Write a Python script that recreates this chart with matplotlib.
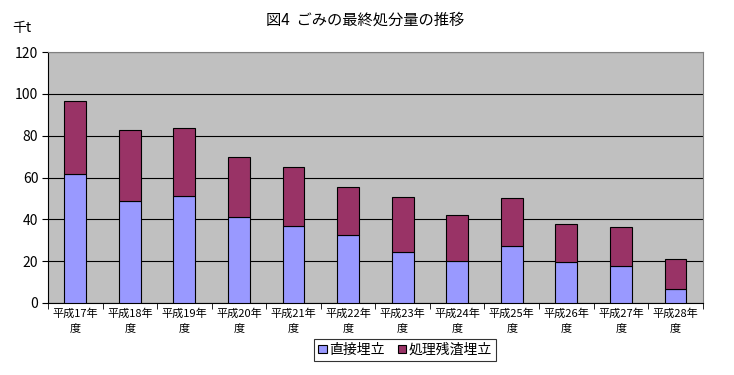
import numpy as np
import matplotlib.pyplot as plt

plt.rcParams['font.family'] = ['Noto Sans CJK JP', 'DejaVu Sans']

years = ['平成17年\n度', '平成18年\n度', '平成19年\n度', '平成20年\n度', '平成21年\n度', '平成22年\n度',
         '平成23年\n度', '平成24年\n度', '平成25年\n度', '平成26年\n度', '平成27年\n度', '平成28年\n度']
direct = [61.7, 48.8, 51.2, 41.1, 36.8, 32.5, 24.4, 19.9, 27.1, 19.5, 17.5, 6.5]
total = [96.6, 82.7, 83.7, 69.8, 65.0, 55.5, 50.7, 41.9, 50.0, 37.6, 36.2, 20.9]
residue = [t - d for t, d in zip(total, direct)]

fig = plt.figure(figsize=(7.34, 3.75), dpi=100)
ax = fig.add_axes([0.0654, 0.192, 0.892, 0.669])
ax.set_facecolor('#C0C0C0')

x = np.arange(len(years))
ax.bar(x, direct, width=0.4, color='#9999FF', edgecolor='black', linewidth=0.8, label='直接埋立', zorder=3)
ax.bar(x, residue, width=0.4, bottom=direct, color='#993366', edgecolor='black', linewidth=0.8,
       label='処理残渣埋立', zorder=3)

ax.set_xlim(-0.5, len(years) - 0.5)
ax.set_ylim(0, 120)
ax.set_yticks(range(0, 121, 20))
ax.yaxis.grid(True, color='black', linewidth=0.8, zorder=1)
ax.set_axisbelow(True)
ax.tick_params(axis='y', labelsize=10, length=4, direction='out', pad=3)
ax.set_xticks(x)
ax.set_xticklabels(years, fontsize=8, linespacing=1.5)
ax.tick_params(axis='x', length=0, pad=4)
ax.set_xticks(np.arange(-0.5, len(years), 1), minor=True)
ax.tick_params(axis='x', which='minor', length=4, direction='out')

for s in ['top', 'right']:
    ax.spines[s].set_color('#808080')
for s in ['left', 'bottom']:
    ax.spines[s].set_color('black')

fig.text(0.497, 0.945, '図4  ごみの最終処分量の推移', ha='center', va='center', fontsize=11)
fig.text(0.03, 0.925, '千t', ha='center', va='center', fontsize=10)

leg = fig.legend(loc='center', bbox_to_anchor=(0.552, 0.067), ncol=2, fontsize=10,
                 frameon=True, fancybox=False, edgecolor='black', handlelength=0.6,
                 handleheight=0.6, handletextpad=0.2, columnspacing=0.9, borderpad=0.3)
leg.get_frame().set_linewidth(0.8)

fig.savefig('out.png', dpi=100)
